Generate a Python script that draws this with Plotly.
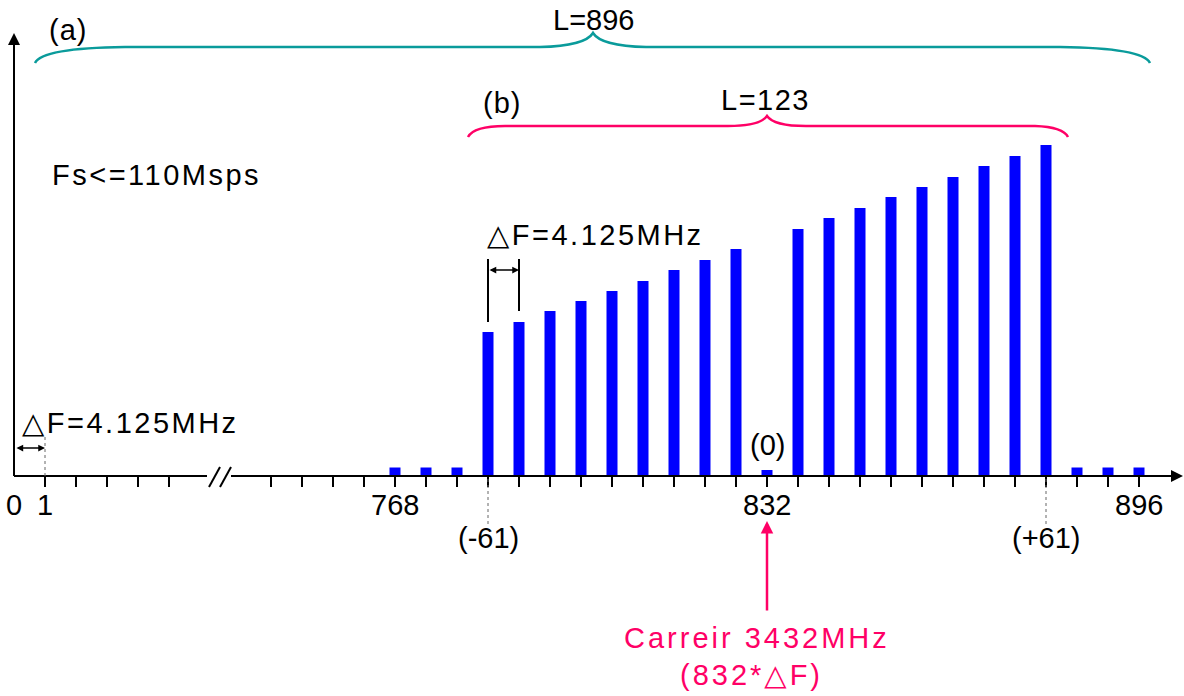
import plotly.graph_objects as go

# ---------------- data (schematic spectrum) ----------------
left_slot_labels = ["0", "1", "", "", "", ""]            # slots left of the axis break
right_slot_labels = ["", "", "", "", "768", "", "", "", "", "", "", "", "",
                     "", "", "", "832", "", "", "", "", "", "", "", "",
                     "", "", "", "896"]                   # slots right of the break
sub_index_labels = {7: "(-61)", 25: "(+61)"}
guard_low_slots = [4, 5, 6]
guard_low = [8.5, 8.5, 8.5]
lower_band_slots = [7, 8, 9, 10, 11, 12, 13, 14, 15]
lower_band = [144, 154, 165, 175, 185, 195, 206, 216, 227]
carrier_slots = [16]
carrier = [6]
upper_band_slots = [17, 18, 19, 20, 21, 22, 23, 24, 25]
upper_band = [247, 258, 268, 279, 289, 299, 310, 320, 331]
guard_high_slots = [26, 27, 28]
guard_high = [8.5, 8.5, 8.5]

# ---------------- geometry helpers ----------------
W, H = 1184, 696
PX0, STEP, BASE = 14, 31.0, 476
RIGHT0 = (271 - PX0) / STEP          # position of first slot after the break


def X(px):
    return (px - PX0) / STEP


def Y(py):
    return BASE - py


def rpos(k):
    return RIGHT0 + k


FONT = dict(family="Liberation Sans, Arial, DejaVu Sans", size=29, color="black")
BLUE = "#0000FF"
TEAL = "#0A9B9B"
PINK = "#FF0066"

fig = go.Figure()

bar_w = 11 / STEP
for slots, vals in [(guard_low_slots, guard_low), (lower_band_slots, lower_band),
                    (carrier_slots, carrier), (upper_band_slots, upper_band),
                    (guard_high_slots, guard_high)]:
    fig.add_trace(go.Bar(x=[rpos(k) for k in slots], y=vals, width=bar_w,
                         marker=dict(color=BLUE, line=dict(width=0)),
                         hoverinfo="skip", showlegend=False))

shapes = []
annos = []


def line(x0, y0, x1, y1, color="black", width=2, dash=None):
    d = dict(type="line", xref="x", yref="y", x0=x0, y0=y0, x1=x1, y1=y1,
             line=dict(color=color, width=width), layer="above")
    if dash:
        d["line"]["dash"] = dash
    shapes.append(d)


def text(s, x, y, xanchor="center", color="black", size=29, spacing=0.0):
    f = dict(FONT)
    f["color"] = color
    f["size"] = size
    if spacing:
        s = '<span style="letter-spacing:{}px">{}</span>'.format(spacing, s)
    annos.append(dict(text=s, x=x, y=y, xref="x", yref="y", showarrow=False,
                      xanchor=xanchor, yanchor="middle", font=f))


def arrow(xt, yt, xs, ys, color="black", width=2, size=1.0, both=False):
    annos.append(dict(text="", x=xt, y=yt, ax=xs, ay=ys, xref="x", yref="y",
                      axref="x", ayref="y", showarrow=True, arrowhead=2,
                      arrowsize=size, arrowwidth=width, arrowcolor=color,
                      arrowside="end+start" if both else "end",
                      startarrowhead=2, startarrowsize=size, standoff=0,
                      startstandoff=0))


# axes
line(0, 0, 0, Y(60))
arrow(0, Y(33), 0, Y(70), width=2, size=1.2)
line(0, 0, X(207), 0)
line(X(231), 0, X(1165), 0)
arrow(X(1183), 0, X(1160), 0, width=2, size=1.2)
line(X(209), Y(487), X(220), Y(467))
line(X(220), Y(487), X(231), Y(467))

# ticks + tick labels
for i, lab in enumerate(left_slot_labels):
    if i > 0:
        line(i, 0, i, Y(487))
    if lab:
        text(lab, i, Y(505))
for k, lab in enumerate(right_slot_labels):
    line(rpos(k), 0, rpos(k), Y(487))
    if lab:
        text(lab, rpos(k), Y(505))
for k, lab in sub_index_labels.items():
    line(rpos(k), Y(479), rpos(k), Y(525), color="#666666", width=1, dash="dot")
    text(lab, rpos(k), Y(538))

# small ΔF marker at bottom-left
line(1, 0, 1, Y(437), color="#666666", width=1, dash="dot")
arrow(1, Y(448), 0.03, Y(448), width=1.5, size=0.9, both=True)
text("△F=4.125MHz", X(20), Y(423), xanchor="left", spacing=2.5)

# ΔF marker between first two band bars
line(rpos(7), Y(259), rpos(7), Y(322))
line(rpos(8), Y(259), rpos(8), Y(311))
arrow(rpos(8), Y(270), rpos(7), Y(270), width=1.5, size=0.9, both=True)
text("△F=4.125MHz", X(485), Y(235), xanchor="left", spacing=2.5)

text("Fs<=110Msps", X(50), Y(175), xanchor="left", spacing=2.5)
text("(0)", rpos(16), Y(445))


def brace(pts):
    out = ["M {},{}".format(X(pts[0][0]), Y(pts[0][1]))]
    for seg in pts[1:]:
        if seg[0] == "Q":
            out.append("Q {},{} {},{}".format(X(seg[1]), Y(seg[2]), X(seg[3]), Y(seg[4])))
        else:
            out.append("L {},{}".format(X(seg[1]), Y(seg[2])))
    return " ".join(out)


brace_a = brace([(35, 63), ("Q", 42, 48, 125, 47), ("L", 540, 47),
                 ("Q", 585, 46, 593, 33), ("Q", 601, 46, 646, 47),
                 ("L", 1060, 47), ("Q", 1143, 48, 1150, 63)])
brace_b = brace([(468, 137), ("Q", 474, 126, 505, 126), ("L", 728, 126),
                 ("Q", 760, 126, 767, 116), ("Q", 774, 126, 806, 126),
                 ("L", 1035, 126), ("Q", 1063, 127, 1068, 137)])
shapes.append(dict(type="path", xref="x", yref="y", path=brace_a,
                   line=dict(color=TEAL, width=2.5)))
shapes.append(dict(type="path", xref="x", yref="y", path=brace_b,
                   line=dict(color=PINK, width=2.5)))
text("(a)", X(68), Y(30), spacing=1)
text("L=896", X(593), Y(20))
text("(b)", X(502), Y(103), spacing=1)
text("L=123", X(765), Y(100), spacing=1.5)

# carrier annotation
arrow(rpos(16), Y(521), rpos(16), Y(612), color=PINK, width=2.5, size=1.0)
text("Carreir 3432MHz", X(757), Y(638), color=PINK, spacing=3)
text("(832*△F)", X(751), Y(675), color=PINK, spacing=3)

fig.update_layout(
    width=W, height=H,
    margin=dict(l=0, r=0, t=0, b=0),
    paper_bgcolor="white", plot_bgcolor="white",
    xaxis=dict(range=[X(0), X(W)], visible=False, fixedrange=True),
    yaxis=dict(range=[Y(H), Y(0)], visible=False, fixedrange=True),
    shapes=shapes, annotations=annos, showlegend=False,
)
fig.write_html("out.html")
